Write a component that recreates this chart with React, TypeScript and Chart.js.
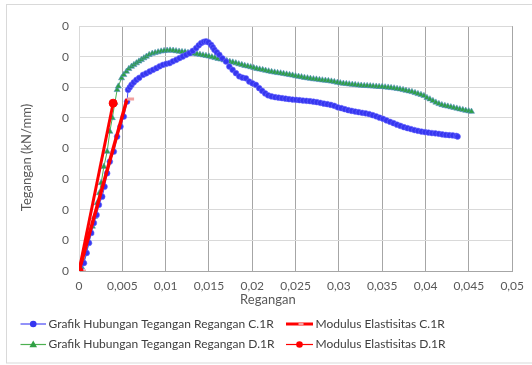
import React, { useEffect, useRef } from 'react';
import { Chart, registerables } from 'chart.js';

Chart.register(...registerables);

// ---- DATA ----
const seriesNames = [
  'Grafik Hubungan Tegangan Regangan C.1R',
  'Grafik Hubungan Tegangan Regangan D.1R',
  'Modulus Elastisitas C.1R',
  'Modulus Elastisitas D.1R',
];

const strainC = [
  0, 0.0002, 0.00057, 0.00088, 0.00115, 0.00141, 0.00172, 0.00203, 0.0023, 0.00268, 0.00295, 0.00325,
  0.00356, 0.00402, 0.0044, 0.00479, 0.00517, 0.00555,
  0.00566, 0.00586, 0.00606, 0.00632, 0.00663, 0.00695, 0.00739, 0.00776, 0.00816, 0.00854, 0.00893,
  0.00931, 0.00969, 0.01008, 0.01046, 0.01084, 0.01123, 0.0116, 0.01198, 0.01237, 0.01275, 0.01313,
  0.01352, 0.01382, 0.0141, 0.0144, 0.01467, 0.01494, 0.01525, 0.01545, 0.01563, 0.01591, 0.0162,
  0.01655, 0.01697, 0.01735, 0.01773, 0.01812, 0.0185, 0.01888, 0.01927, 0.01965, 0.02003, 0.02042,
  0.0208, 0.02114, 0.02149, 0.02183, 0.02223, 0.02264, 0.02304, 0.02344, 0.02384, 0.02424, 0.02465,
  0.02505, 0.02545, 0.02585, 0.02625, 0.02666, 0.02706, 0.02746, 0.02786, 0.02827, 0.02867, 0.02907,
  0.02947, 0.02987, 0.03028, 0.03068, 0.03108, 0.03148, 0.03188, 0.03229, 0.03269, 0.03309, 0.03349,
  0.0339, 0.0343, 0.0347, 0.0351, 0.0355, 0.03591, 0.03631, 0.03671, 0.03711, 0.03751, 0.03792,
  0.03832, 0.03872, 0.03912, 0.03953, 0.03993, 0.04033, 0.04073, 0.04113, 0.04154, 0.04194, 0.04234,
  0.04274, 0.04314, 0.04355, 0.0437,
];
const stressC = [
  0, 0.001, 0.013, 0.0294, 0.0458, 0.0621, 0.0784, 0.0915, 0.108, 0.1214, 0.1377, 0.1596,
  0.1786, 0.1949, 0.2194, 0.2358, 0.2521, 0.2766,
  0.2958, 0.2998, 0.3039, 0.308, 0.3121, 0.3154, 0.3203, 0.3227, 0.3257, 0.3284, 0.3312,
  0.3342, 0.3366, 0.3382, 0.3394, 0.3423, 0.3448, 0.3476, 0.3502, 0.353, 0.3557, 0.3595,
  0.3639, 0.3685, 0.3721, 0.3742, 0.375, 0.3734, 0.3693, 0.3652, 0.3611, 0.357, 0.353,
  0.3472, 0.342, 0.3338, 0.3284, 0.323, 0.3178, 0.3157, 0.3146, 0.3093, 0.3064, 0.3039,
  0.2985, 0.2941, 0.29, 0.2868, 0.2851, 0.2838, 0.283, 0.2822, 0.2814, 0.2806, 0.2799,
  0.2794, 0.2789, 0.2783, 0.2778, 0.2773, 0.2765, 0.2757, 0.2745, 0.2732, 0.2724, 0.2712,
  0.2696, 0.2672, 0.2659, 0.2642, 0.2626, 0.2614, 0.2603, 0.2593, 0.2582, 0.2574, 0.2562,
  0.2544, 0.2525, 0.2503, 0.2484, 0.2459, 0.2435, 0.2413, 0.2389, 0.2369, 0.2348, 0.2332,
  0.2317, 0.2301, 0.2288, 0.2276, 0.2268, 0.226, 0.2252, 0.2247, 0.2239, 0.223, 0.2222,
  0.2217, 0.2214, 0.2206, 0.2195,
];

const strainD = [
  0, 0.00029, 0.00057, 0.00086, 0.00115, 0.00138, 0.00155, 0.0018, 0.0021, 0.00236, 0.00256, 0.00287,
  0.00325, 0.00356, 0.00385, 0.00414, 0.0044, 0.00454, 0.00491, 0.00517, 0.00548, 0.00575, 0.00606,
  0.00634, 0.00663, 0.00692, 0.0072, 0.00749, 0.00778, 0.0081, 0.00845, 0.00879, 0.00913, 0.00948,
  0.00982, 0.01017, 0.01051, 0.01086, 0.0112, 0.01155, 0.01189, 0.01224, 0.01258, 0.01293, 0.01327,
  0.01362, 0.01396, 0.01431, 0.01465, 0.01499, 0.01534, 0.01568, 0.01603, 0.01637, 0.01672, 0.01706,
  0.01741, 0.01775, 0.0181, 0.01844, 0.01879, 0.01913, 0.01948, 0.01982, 0.02017, 0.02051, 0.02085,
  0.0212, 0.02154, 0.02189, 0.02223, 0.02258, 0.02292, 0.02327, 0.02361, 0.02396, 0.0243, 0.02465,
  0.02499, 0.02534, 0.02568, 0.02602, 0.02637, 0.02671, 0.02706, 0.0274, 0.02775, 0.02809, 0.02844,
  0.02878, 0.02913, 0.02947, 0.02982, 0.03016, 0.03051, 0.03085, 0.03119, 0.03154, 0.03188, 0.03223,
  0.03257, 0.03292, 0.03326, 0.03361, 0.03395, 0.0343, 0.03464, 0.03499, 0.03533, 0.03568, 0.03602,
  0.03637, 0.03671, 0.03705, 0.0374, 0.03774, 0.03809, 0.03843, 0.03878, 0.03912, 0.03947, 0.03981,
  0.04016, 0.0405, 0.04085, 0.04119, 0.04154, 0.04188, 0.04223, 0.04257, 0.04292, 0.04326, 0.04361,
  0.04395, 0.0443, 0.04464, 0.04498, 0.0453,
];
const stressD = [
  0, 0.0065, 0.0147, 0.031, 0.0474, 0.0621, 0.0727, 0.0887, 0.1111, 0.1275, 0.1438, 0.1704,
  0.1949, 0.2276, 0.25, 0.2745, 0.2958, 0.3015, 0.3149, 0.3203, 0.3257, 0.3301, 0.3338,
  0.3366, 0.3394, 0.3423, 0.3448, 0.3476, 0.3502, 0.353, 0.3549, 0.3562, 0.3575, 0.3587,
  0.3595, 0.36, 0.3603, 0.36, 0.3592, 0.3585, 0.3578, 0.3574, 0.3565, 0.3557, 0.3549,
  0.3541, 0.3533, 0.3524, 0.3516, 0.3505, 0.3492, 0.348, 0.3467, 0.3456, 0.3443, 0.3431,
  0.3418, 0.3407, 0.3394, 0.3379, 0.3366, 0.3353, 0.3342, 0.333, 0.3317, 0.3304, 0.3293,
  0.3284, 0.3273, 0.3263, 0.3252, 0.3243, 0.3235, 0.323, 0.3222, 0.3211, 0.3203, 0.3194,
  0.3183, 0.3175, 0.3167, 0.3157, 0.3149, 0.3141, 0.3134, 0.3129, 0.3121, 0.3116, 0.311,
  0.3105, 0.3096, 0.3088, 0.3077, 0.3069, 0.3061, 0.3056, 0.3051, 0.3044, 0.3039, 0.3034,
  0.3029, 0.3026, 0.3023, 0.302, 0.3016, 0.3013, 0.301, 0.3007, 0.3002, 0.2997, 0.299,
  0.2985, 0.2977, 0.2969, 0.2958, 0.2946, 0.2936, 0.2925, 0.2909, 0.2892, 0.2879, 0.286,
  0.283, 0.2806, 0.2778, 0.2753, 0.2729, 0.2712, 0.2699, 0.2688, 0.2677, 0.2667, 0.2655,
  0.2642, 0.2631, 0.2619, 0.2611, 0.2603,
];

const modStrainC = [0, 0.00555];
const modStressC = [0, 0.281];
const modStrainD = [0, 0.00394];
const modStressD = [0, 0.274];

const xTickLabels = ['0', '0,005', '0,01', '0,015', '0,02', '0,025', '0,03', '0,035', '0,04', '0,045', '0,05'];
const yTickLabels = ['0', '0', '0', '0', '0', '0', '0', '0', '0'];

const xTitle = 'Regangan';
const yTitle = 'Tegangan (kN/mm)';

// ---- STYLE ----
const FONT = 'Lato, "Liberation Sans", sans-serif';
const BLUE = '#3636f0';
const GREEN = '#30a045';
const RED = '#ff0000';

const toPts = (xs: number[], ys: number[]) => xs.map((x, i) => ({ x, y: ys[i] }));

const decor = {
  id: 'decor',
  beforeDraw(chart: any) {
    const ctx = chart.ctx;
    ctx.save();
    ctx.fillStyle = '#ffffff';
    ctx.fillRect(0, 0, chart.width, chart.height);
    ctx.strokeStyle = '#d9d9d9';
    ctx.lineWidth = 1;
    ctx.strokeRect(6.5, 4.5, 600, 358.5);
    ctx.restore();
  },
  afterDraw(chart: any) {
    const ctx = chart.ctx;
    const area = chart.chartArea;
    ctx.save();
    // axis titles
    ctx.fillStyle = '#595959';
    ctx.font = `13px ${FONT}`;
    ctx.textAlign = 'center';
    ctx.textBaseline = 'middle';
    ctx.fillText(xTitle, area.left + (area.right - area.left) * 0.436, area.bottom + 29);
    ctx.save();
    ctx.translate(27, (area.top + area.bottom) / 2 + 9);
    ctx.rotate(-Math.PI / 2);
    ctx.fillText(yTitle, 0, 0);
    ctx.restore();

    // legend
    const ds = chart.data.datasets;
    const slots = [
      { i: 0, x: 20.5, w: 25.5, y: 324 },
      { i: 1, x: 20.5, w: 25.5, y: 344.5 },
      { i: 2, x: 286, w: 27, y: 324 },
      { i: 3, x: 286, w: 27, y: 344.5 },
    ];
    ctx.font = `12px ${FONT}`;
    ctx.textAlign = 'left';
    ctx.textBaseline = 'middle';
    for (const s of slots) {
      const d = ds[s.i];
      const cx = s.x + s.w / 2;
      ctx.strokeStyle = d.borderColor;
      ctx.lineWidth = d.legendLineWidth;
      ctx.beginPath();
      ctx.moveTo(s.x, s.y);
      ctx.lineTo(s.x + s.w, s.y);
      ctx.stroke();
      ctx.fillStyle = d.pointBackgroundColor;
      ctx.strokeStyle = d.pointBorderColor;
      ctx.lineWidth = 1;
      if (d.pointStyle === 'circle') {
        ctx.beginPath();
        ctx.arc(cx, s.y, 3.3, 0, Math.PI * 2);
        ctx.fill();
      } else if (d.pointStyle === 'triangle') {
        ctx.beginPath();
        ctx.moveTo(cx, s.y - 4);
        ctx.lineTo(cx + 3.8, s.y + 2.8);
        ctx.lineTo(cx - 3.8, s.y + 2.8);
        ctx.closePath();
        ctx.fill();
      } else if (d.pointStyle === 'dash') {
        ctx.strokeStyle = d.pointBorderColor;
        ctx.lineWidth = 2;
        ctx.beginPath();
        ctx.moveTo(cx - 1, s.y);
        ctx.lineTo(cx + 4, s.y);
        ctx.stroke();
      }
      ctx.fillStyle = '#404040';
      ctx.fillText(d.label, s.x + s.w + 2.5, s.y);
    }
    ctx.restore();
  },
};

export default function App() {
  const ref = useRef<HTMLCanvasElement | null>(null);

  useEffect(() => {
    if (!ref.current) return;
    const chart = new Chart(ref.current, {
      type: 'scatter',
      data: {
        datasets: [
          {
            label: seriesNames[0],
            data: toPts(strainC, stressC),
            showLine: true,
            borderColor: '#4a4af5',
            borderWidth: 1,
            legendLineWidth: 1.2,
            pointStyle: 'circle',
            pointRadius: 2.9,
            pointBackgroundColor: BLUE,
            pointBorderColor: 'rgba(110,110,255,0.55)',
            pointBorderWidth: 1,
            order: 2,
          } as any,
          {
            label: seriesNames[1],
            data: toPts(strainD, stressD),
            showLine: true,
            borderColor: '#4cb050',
            borderWidth: 1,
            legendLineWidth: 1.2,
            pointStyle: 'triangle',
            pointRadius: 3.5,
            pointBackgroundColor: GREEN,
            pointBorderColor: 'rgba(80,140,200,0.55)',
            pointBorderWidth: 1,
            order: 3,
          } as any,
          {
            label: seriesNames[2],
            data: toPts(modStrainC, modStressC),
            showLine: true,
            borderColor: RED,
            borderWidth: 3.5,
            legendLineWidth: 3,
            pointStyle: 'dash',
            pointRadius: 7,
            pointBackgroundColor: '#f2a0a0',
            pointBorderColor: '#f2a0a0',
            pointBorderWidth: 3,
            order: 1,
          } as any,
          {
            label: seriesNames[3],
            data: toPts(modStrainD, modStressD),
            showLine: true,
            borderColor: RED,
            borderWidth: 3,
            legendLineWidth: 1.2,
            pointStyle: 'circle',
            pointRadius: 4,
            pointBackgroundColor: RED,
            pointBorderColor: RED,
            pointBorderWidth: 1,
            order: 0,
          } as any,
        ],
      },
      options: {
        animation: false,
        responsive: false,
        maintainAspectRatio: false,
        layout: { padding: { left: 0, top: 26, right: 17, bottom: 0 } },
        plugins: {
          legend: { display: false },
          tooltip: { enabled: false },
        },
        scales: {
          x: {
            type: 'linear',
            min: 0,
            max: 0.05,
            afterFit: (s: any) => { s.height = 94; },
            grid: { color: '#a6a6a6', lineWidth: 1, drawTicks: false },
            border: { color: '#a6a6a6' },
            ticks: {
              stepSize: 0.005,
              padding: 8,
              color: '#595959',
              font: { family: FONT, size: 12 },
              maxRotation: 0,
              autoSkip: false,
              callback: (_v: any, i: number) => xTickLabels[i] ?? '',
            },
          },
          y: {
            type: 'linear',
            min: 0,
            max: 0.4,
            afterFit: (s: any) => { s.width = 79; },
            grid: { color: '#d9d9d9', lineWidth: 1, drawTicks: false },
            border: { color: '#d9d9d9' },
            ticks: {
              stepSize: 0.05,
              padding: 10,
              color: '#595959',
              font: { family: FONT, size: 12 },
              autoSkip: false,
              callback: (_v: any, i: number) => yTickLabels[i] ?? '',
            },
          },
        },
      },
      plugins: [decor],
    });
    return () => chart.destroy();
  }, []);

  return (
    <div style={{ position: 'absolute', left: 0, top: 0, width: 532, height: 365 }}>
      <canvas ref={ref} width={532} height={365} style={{ width: 532, height: 365, display: 'block' }} />
    </div>
  );
}
